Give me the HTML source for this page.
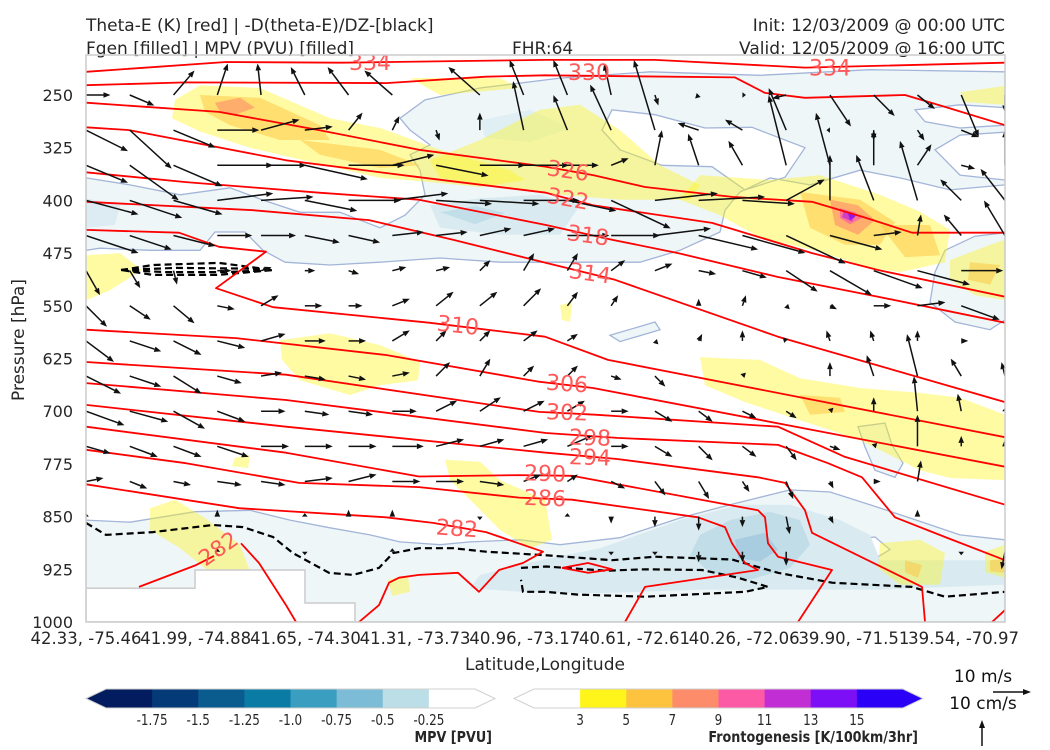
<!DOCTYPE html>
<html><head><meta charset="utf-8">
<style>
html,body{margin:0;padding:0;background:#fff;}
svg{display:block;font-family:"DejaVu Sans","Liberation Sans",sans-serif;}
</style></head>
<body>
<svg id="chart" width="1050" height="750" viewBox="0 0 1050 750" xmlns="http://www.w3.org/2000/svg">
  <defs><clipPath id="plotclip"><rect x="86" y="55" width="919" height="567"/></clipPath></defs>
  <rect width="1050" height="750" fill="#fff"/>
  <g font-size="17" fill="#262626">
    <text x="86" y="31">Theta-E (K) [red] | -D(theta-E)/DZ-[black]</text>
    <text x="86" y="54">Fgen [filled] | MPV (PVU) [filled]</text>
    <text x="512" y="54">FHR:64</text>
    <text x="1005" y="31" text-anchor="end">Init: 12/03/2009 @ 00:00 UTC</text>
    <text x="1005" y="54" text-anchor="end">Valid: 12/05/2009 @ 16:00 UTC</text>
  </g>
  <g id="plot" clip-path="url(#plotclip)"></g>
  <rect x="86" y="55" width="919" height="567" fill="none" stroke="#cccccc" stroke-width="1.5"/>
  <g id="axes"></g>
  <text x="24" y="340" font-size="17" fill="#262626" text-anchor="middle" transform="rotate(-90 24 340)">Pressure [hPa]</text>
  <text x="545" y="670" font-size="17" fill="#262626" text-anchor="middle">Latitude,Longitude</text>
  <g id="cbars"></g>
  <g fill="#111">
    <text x="983" y="682" font-size="17" text-anchor="middle">10 m/s</text>
    <line x1="993" y1="692" x2="1026" y2="692" stroke="#111" stroke-width="1.5"/>
    <polygon points="1031,692 1023,689 1023,695"/>
    <text x="983" y="709" font-size="17" text-anchor="middle">10 cm/s</text>
    <line x1="982" y1="746" x2="982" y2="726" stroke="#111" stroke-width="1.5"/>
    <polygon points="982,720 979,728 985,728"/>
  </g>
</svg>
<script>
// ---------- scales ----------
const X0 = 86, X1 = 1005, KM_MAX = 919;
const YB = 622, P_BOT = 1000, PX_PER_HPA = 527/750;
function xS(km){ return X0 + km*(X1-X0)/KM_MAX; }
function yS(p){ return YB - (P_BOT - p)*PX_PER_HPA; }

// ---------- axis data ----------
const yTicks = [250,325,400,475,550,625,700,775,850,925,1000];
const xTickKm = [0,109.7,219.4,329.1,438.8,548.5,658.2,767.9,877.6];
const xTickLabels = ["42.33, -75.46","41.99, -74.88","41.65, -74.30","41.31, -73.73","40.96, -73.17","40.61, -72.61","40.26, -72.06","39.90, -71.51","39.54, -70.97"];

// ---------- MPV fills [km, hPa] ----------
const mpvTop = [[0,368],[44,378],[94,392],[144,382],[176,399],[214,417],[254,417],[294,439],[319,421],[339,392],[334,357],[324,335],[344,321],[324,300],[314,283],[339,257],[394,240],[474,226],[564,217],[674,222],[784,214],[919,217],[919,303],[874,307],[849,328],[874,364],[919,371],[919,378],[864,385],[814,368],[774,357],[724,378],[684,368],[654,388],[639,414],[634,445],[594,471],[554,488],[474,488],[414,488],[354,482],[294,488],[244,492],[199,488],[177,471],[159,445],[129,445],[114,471],[64,471],[14,468],[0,471]];
const mpvHoleA = [[516,300],[526,271],[569,278],[619,297],[666,296],[719,325],[699,367],[659,385],[626,352],[576,350],[534,328]];
const mpvHoleB = [[829,271],[874,264],[919,268],[919,293],[874,297],[839,288]];
const mpvMid1 = [[344,407],[394,397],[454,392],[494,407],[474,449],[414,449],[354,439]];
const mpvMid2 = [[394,286],[444,271],[484,297],[444,317],[399,311]];
const mpvMid3 = [[0,397],[34,407],[29,435],[0,439]];
const mpvDeep1 = [[354,417],[389,408],[419,418],[389,434]];
const mpvRight = [[859,471],[889,451],[919,446],[919,570],[904,584],[869,573],[844,545],[849,502]];
const mpvSmall = [[772,722],[799,717],[806,748],[817,774],[809,794],[789,784],[779,751]];
const mpvTiny = [[524,592],[569,573],[574,584],[534,601]];
const mpvLow = [[0,855],[44,858],[109,843],[164,841],[204,855],[244,866],[284,876],[314,886],[354,890],[384,886],[434,883],[474,890],[534,880],[594,852],[644,833],[704,812],[744,815],[784,833],[824,852],[874,876],[919,883],[919,1000],[0,1000]];
const mpvLow2 = [[394,933],[454,912],[514,895],[594,855],[654,833],[704,833],[754,855],[784,876],[794,912],[919,912],[919,947],[794,954],[714,954],[614,954],[514,959],[434,957],[384,952]];
const mpvLow3 = [[614,876],[644,855],[684,843],[714,855],[724,890],[704,923],[664,940],[624,929],[604,905]];
const mpvLow4 = [[649,883],[679,873],[692,897],[674,914],[652,909]];
const mpvLowHole = [[757,883],[789,879],[804,897],[784,914],[762,907]];
const terrain = [[0,952],[109,952],[109,926],[219,926],[219,973],[269,973],[269,1000],[0,1000]];

// ---------- Frontogenesis fills [km, hPa] ----------
const fgen1 = [
 [[89,257],[114,236],[174,240],[244,283],[294,297],[354,328],[424,357],[439,371],[394,381],[344,374],[294,368],[224,345],[164,325],[114,302],[86,283]],
 [[324,226],[414,226],[434,240],[354,250]],
 [[344,343],[394,314],[454,271],[494,264],[534,300],[574,350],[614,378],[604,399],[534,399],[474,392],[394,378],[354,368]],
 [[614,364],[684,371],[734,364],[794,392],[834,416],[864,442],[859,488],[814,502],[784,496],[734,473],[674,453],[634,421],[594,399]],
 [[864,485],[904,463],[919,456],[919,542],[889,535],[864,513]],
 [[874,246],[919,237],[919,264],[879,260]],
 [[194,599],[244,589],[294,606],[334,630],[332,656],[294,663],[264,677],[214,656],[196,627]],
 [[0,478],[34,475],[56,499],[24,528],[0,542]],
 [[614,623],[674,627],[714,653],[774,667],[834,674],[874,681],[919,705],[919,798],[864,795],[834,784],[774,741],[714,713],[659,687],[619,663]],
 [[359,769],[394,772],[414,798],[459,826],[466,883],[444,895],[414,869],[384,826],[364,798]],
 [[64,838],[89,826],[119,852],[154,890],[169,947],[144,954],[124,929],[94,895],[64,869]],
 [[794,888],[834,883],[859,902],[854,947],[814,947],[792,923]],
 [[899,900],[919,890],[919,937],[899,929]],
 [[302,940],[322,934],[324,957],[306,963]],
 [[474,549],[486,545],[484,573],[476,570]],
 [[149,766],[164,762],[162,781],[146,778]]
];
const fgen2 = [
 [[114,250],[174,254],[234,293],[244,314],[194,314],[144,293],[119,274]],
 [[214,314],[294,328],[334,350],[294,354],[234,335]],
 [[714,388],[774,399],[809,431],[794,463],[759,463],[724,439]],
 [[794,435],[844,435],[854,478],[819,481]],
 [[884,488],[914,492],[904,520],[882,513]],
 [[714,677],[754,681],[759,701],[724,705]],
 [[139,926],[159,933],[159,952],[142,952]],
 [[819,912],[836,919],[832,937],[819,929]],
 [[904,912],[919,910],[919,930],[904,928]]
];
const fgen3 = [[[129,261],[154,254],[169,268],[149,278],[134,274]],[[744,399],[772,407],[789,428],[772,449],[749,435]],[[144,940],[156,944],[156,952],[146,952]]];
const fgen4 = [[[754,411],[769,417],[776,425],[764,434],[754,425]]];
const fgen5 = [[[758,414],[770,420],[766,430],[756,424]]];
const fgen6 = [[[762,418],[770,422],[764,428]]];

// ---------- Theta-E contours [km, hPa] ----------
const thetaLevels = [334,330,326,322,318,314,310,306,302,298,294,290,286,282];
const th334 = [[0,217],[140,203],[256,204],[459,200],[569,200],[719,211],[919,204]];
const th330 = [[0,236],[100,232],[300,233],[400,224],[459,222],[649,225],[679,247],[719,254],[819,250],[859,267],[919,293]];
const th326 = [[0,261],[133,274],[233,300],[333,328],[460,352],[507,364],[559,381],[646,395],[726,402],[776,423],[826,446],[919,446]];
const th322 = [[0,296],[43,300],[200,343],[333,367],[460,389],[507,407],[626,432],[726,475],[792,499],[919,537]];
const th318 = [[0,360],[100,374],[233,389],[333,399],[460,435],[526,456],[592,475],[692,509],[792,537],[919,574]];
const th314 = [[0,402],[167,414],[283,428],[367,456],[460,489],[529,513],[692,594],[919,687]];
const th310 = [[0,442],[93,446],[133,466],[180,473],[130,525],[187,552],[343,574],[459,594],[522,627],[919,737]];
const th306 = [[0,584],[150,596],[300,620],[453,658],[507,667],[919,779]];
const th302 = [[0,630],[200,648],[453,701],[509,705],[692,722],[759,765],[919,833]];
const th298 = [[0,660],[200,684],[460,731],[531,738],[692,748],[742,774],[776,794],[809,851],[859,879],[919,912]];
const th294 = [[0,691],[200,722],[460,759],[531,768],[672,794],[699,802],[719,841],[726,873],[836,950],[839,1000]];
const th290 = [[0,722],[200,759],[333,793],[433,791],[486,792],[672,841],[679,851],[682,888],[692,907],[746,926],[712,1000]];
const th286 = [[0,755],[100,774],[213,802],[333,808],[433,823],[486,826],[612,851],[639,865],[646,888],[659,916],[672,926],[559,950],[539,1000]];
const th282 = [[0,804],[153,838],[300,851],[347,859],[400,872],[457,900],[437,916],[413,926],[393,957],[372,930],[333,933],[313,937],[303,944],[293,976],[273,1000]];
const th282b = [[53,950],[110,919],[128,906]];
const th282c = [[155,888],[173,916],[200,976],[210,1000]];
const th282d = [[476,923],[502,916],[526,925],[502,930],[476,923]];
const th278e = [[906,1000],[919,983]];
const thetaLines = [th334,th330,th326,th322,th318,th314,th310,th306,th302,th298,th294,th290,th286,th282,th282b,th282c,th282d,th278e];
const labelVals = [334,330,334,326,322,318,314,310,306,302,298,294,290,286,282,282];
const labelKm   = [284,503,744,482,482,502,504,372,481,481,504,504,459,459,371,132];
const labelP    = [203,217,211,357,397,449,503,577,660,701,737,765,788,823,866,895];
const labelRot  = [0,0,0,8,10,8,8,6,4,2,2,2,2,2,4,-35];

// ---------- -D(theta-E)/DZ dashed contours ----------
const dthUpper = [[35,499],[67,492],[133,489],[187,499],[133,506],[67,506],[35,499]];
const dthUpper2 = [[35,499],[90,496],[160,497],[187,499],[140,502],[80,502],[35,499]];
const dthLow = [[0,859],[20,876],[67,872],[127,862],[157,865],[187,879],[207,902],[243,930],[267,933],[293,923],[307,902],[333,895],[367,895],[400,900],[459,905],[526,912],[569,907],[646,911],[692,930],[746,944],[826,950],[859,964],[919,957]];
const dthLoop = [[435,923],[460,921],[520,927],[559,925],[616,926],[652,937],[682,950],[659,957],[559,964],[492,961],[459,957],[437,957],[435,940]];

// ---------- wind vectors (u m/s, w cm/s) ----------
const windP = [250,300,350,400,450,500,550,600,650,700,750,800,850,900];
const U250=[7,7,6,3,-1,-4,-6,-8,0,-9,-4,-4,-2,1,-1,1,-4,6,6,5,5,0];
const W250=[0,-3,7,9,9,8,8,7,0,8,10,10,9,-3,-1,0,-1,-9,-6,-4,-12,-5];
const U300=[12,12,12,12,11,8,4,2,1,0,-3,-4,-6,-6,-6,-5,-5,-1,0,2,5,3];
const W300=[-6,-11,-5,0,3,1,5,4,-3,5,14,10,13,20,2,3,12,0,-3,-3,-2,-9];
const U350=[12,14,14,16,13,18,16,12,15,13,13,9,5,2,-3,-4,-5,-4,0,4,4,0];
const W350=[-5,-10,-6,0,0,-4,0,3,-3,0,0,0,2,10,9,7,20,15,10,6,-1,10];
const U400=[15,15,14,16,15,15,15,16,16,17,16,14,17,18,19,15,11,0,-5,-5,-6,-7];
const W400=[-4,-5,-4,2,1,-3,0,2,-1,-1,0,-3,-8,2,1,-1,6,13,13,17,6,9];
const U450=[15,12,12,10,10,10,9,9,9,9,9,12,14,16,17,18,17,15,8,1,-5,-6];
const W450=[-5,-4,-3,0,0,-2,-2,1,1,2,2,0,0,2,-4,-5,-8,-4,1,6,6,10];
const U500=[4,3,1,4,3,3,3,4,4,3,3,3,4,5,5,7,9,12,14,15,12,12];
const W500=[-7,-5,-4,0,1,0,-1,1,1,3,5,5,3,2,-1,-2,-6,-7,-5,-4,0,0];
const U550=[6,6,6,5,5,5,4,5,5,5,5,3,2,0,0,1,1,2,5,8,11,10];
const W550=[-6,-4,-5,-1,3,0,0,2,4,4,5,4,3,0,2,3,-1,-1,0,1,-4,-3];
const U600=[8,9,8,8,7,6,5,5,3,3,4,3,0,1,1,0,-1,-1,-1,0,2,0];
const W600=[-6,-3,-4,-2,2,0,0,3,3,3,3,2,0,-1,2,3,1,3,3,3,0,0];
const U650=[10,9,8,7,6,6,5,5,4,3,3,3,3,3,0,1,0,0,-2,-3,-3,-1];
const W650=[-5,-3,-5,-2,1,-1,-1,1,4,5,3,3,-1,-3,0,1,0,4,6,12,5,4];
const U700=[11,11,9,8,7,7,7,7,6,6,6,5,5,5,4,4,3,1,0,-1,-1,0];
const W700=[-4,-3,-5,-3,0,-1,-1,0,3,4,3,3,0,-3,-3,-2,-2,1,4,10,5,1];
const U750=[7,8,8,9,8,8,8,9,8,7,7,7,5,5,4,4,3,3,1,0,0,0];
const W750=[-2,-3,-3,-3,0,0,0,0,2,2,2,3,0,-3,-4,-3,-4,-1,1,9,3,2];
const U800=[5,5,5,7,7,8,8,8,8,7,5,3,4,3,3,2,2,1,2,1,0,0];
const W800=[1,-2,-1,-1,-1,1,2,0,0,-1,2,2,-2,-4,-5,-3,-5,-2,0,6,0,0];
const U850=[0,0,0,0,0,0,0,0,0,0,0,0,0,0,0,0,1,1,0,0,0,0];
const W850=[1,0,0,2,0,1,2,2,0,-1,0,1,-2,-3,-4,-3,-5,-2,0,2,0,0];
const U900=[0,0,0,0,0,0,0,0,0,0,0,0,0,0,0,0,0,0,0,0,0,-1];
const W900=[0,0,0,1,0,-1,0,1,0,0,0,0,-1,-1,-3,-3,-4,0,0,0,-1,-5];
const windU=[U250,U300,U350,U400,U450,U500,U550,U600,U650,U700,U750,U800,U850,U900];
const windW=[W250,W300,W350,W400,W450,W500,W550,W600,W650,W700,W750,W800,W850,W900];

// ---------- colorbar data ----------
const mpvColors = ["#021c5f","#053a78","#0a5b8e","#0a7ba5","#3a9ec0","#7dbcd6","#bcdee7","#ffffff"];
const mpvTickLabels = ["-1.75","-1.5","-1.25","-1.0","-0.75","-0.5","-0.25"];
const fgColors = ["#ffffff","#fff51a","#fdc33e","#fd8c6a","#fd5aa6","#c12ed4","#7c0ff6","#2a00f6"];
const fgTickLabels = ["3","5","7","9","11","13","15"];

// ---------- drawing ----------
const NS="http://www.w3.org/2000/svg";
const plot=document.getElementById('plot');
const axes=document.getElementById('axes');
const cbars=document.getElementById('cbars');
function mk(tag,attrs,parent){const e=document.createElementNS(NS,tag);for(const k in attrs)e.setAttribute(k,attrs[k]);parent.appendChild(e);return e;}
function pathD(pts,close){return pts.map((q,i)=>(i?'L':'M')+xS(q[0]).toFixed(1)+' '+yS(q[1]).toFixed(1)).join(' ')+(close?' Z':'');}

let e;
e=mk('path',{d:pathD(mpvTop,true)+' '+pathD(mpvHoleA,true)+' '+pathD(mpvHoleB,true),fill:'#eef6f8','fill-rule':'evenodd',stroke:'#a3b5d8','stroke-width':1.3},plot);


[mpvRight,mpvSmall,mpvTiny].forEach(pg=>{
  e=mk('path',{d:pathD(pg,true),fill:'#eef6f8',stroke:'#a3b5d8','stroke-width':1.3},plot);
  
  
});
e=mk('path',{d:pathD(mpvLow,true)+' '+pathD(mpvLowHole,true),fill:'#eef6f8','fill-rule':'evenodd',stroke:'#a3b5d8','stroke-width':1.3},plot);


[[mpvMid1,'#d9ebf1'],[mpvMid2,'#e0eff4'],[mpvMid3,'#dcecf2'],[mpvDeep1,'#c2dfe9'],[mpvLow2,'#d9ebf1'],[mpvLow3,'#c0dde8'],[mpvLow4,'#a8cde0']].forEach(a=>{
  e=mk('path',{d:pathD(a[0],true),fill:a[1]},plot);
  
  
});

const fgLevels=[[fgen1,'#fff51a',0.4],[fgen2,'#fdc33e',0.5],[fgen3,'#fd8c6a',0.6],[fgen4,'#fd5aa6',0.7],[fgen5,'#c12ed4',0.75],[fgen6,'#7c0ff6',0.8]];
fgLevels.forEach(L=>{L[0].forEach(pg=>{
  e=mk('path',{d:pathD(pg,true),fill:L[1],'fill-opacity':L[2]},plot);
  
  
});});

e=mk('path',{d:pathD(terrain,true),fill:'#ffffff',stroke:'#cccccc','stroke-width':1.5},plot);



[dthUpper,dthUpper2,dthLow,dthLoop].forEach(pts=>{
  e=mk('path',{d:pathD(pts,false),fill:'none',stroke:'#000','stroke-width':2.2,'stroke-dasharray':'7,4'},plot);
  
  
});

thetaLines.forEach(pts=>{
  e=mk('path',{d:pathD(pts,false),fill:'none',stroke:'#ff0000','stroke-width':1.8,'stroke-linejoin':'round'},plot);
  
  
});

const U_PX=3.5, W_PX=3.5;
windP.forEach((p,r)=>{
  windU[r].forEach((u,c)=>{
    const w=windW[r][c];
    const x0=xS(c*KM_MAX/21), y0=yS(p);
    const dx=u*U_PX, dy=-w*W_PX;
    const len=Math.hypot(dx,dy);
    if(len<1) return;
    const ux=dx/len, uy=dy/len;
    const hl=Math.min(7,len), hw=2.8;
    const bx=x0+dx-ux*hl, by=y0+dy-uy*hl;
    const g=mk('g',{},plot);
    
    
    if(len>hl) mk('line',{x1:x0,y1:y0,x2:bx,y2:by,stroke:'#111','stroke-width':1.5},g);
    mk('polygon',{points:`${x0+dx},${y0+dy} ${bx-uy*hw},${by+ux*hw} ${bx+uy*hw},${by-ux*hw}`,fill:'#111'},g);
  });
});

labelVals.forEach((v,i)=>{
  const x=xS(labelKm[i]), y=yS(labelP[i]);
  const t=mk('text',{x:x,y:y+8,'text-anchor':'middle','font-size':22,fill:'#ff5a5a',transform:`rotate(${labelRot[i]} ${x} ${y})`},plot);
  
  
  t.textContent=v;
});

yTicks.forEach(p=>{
  const t=mk('text',{x:73,y:yS(p)+6,'text-anchor':'end','font-size':16,fill:'#262626'},axes);
  
  
  t.textContent=p;
});
xTickKm.forEach((k,i)=>{
  const t=mk('text',{x:xS(k),y:644,'text-anchor':'middle','font-size':16.5,fill:'#262626'},axes);
  
  
  t.textContent=xTickLabels[i];
});

function colorbar(x0,x1,colors,ticks,title,titleX,name){
  const g=mk('g',{},cbars);
  
  
  const n=colors.length, tri=20;
  const innerL=x0+tri, innerR=x1-tri;
  const w=(innerR-innerL)/n;
  const yT=689, yB2=708, yM=698.5;
  mk('polygon',{points:`${x0},${yM} ${innerL+0.5},${yT} ${innerL+0.5},${yB2}`,fill:colors[0]},g);
  for(let i=0;i<n;i++) mk('rect',{x:innerL+i*w,y:yT,width:w+0.5,height:yB2-yT,fill:colors[i]},g);
  mk('polygon',{points:`${innerR-0.5},${yT} ${x1},${yM} ${innerR-0.5},${yB2}`,fill:colors[n-1]},g);
  mk('path',{d:`M${x0} ${yM} L${innerL} ${yT} L${innerR} ${yT} L${x1} ${yM} L${innerR} ${yB2} L${innerL} ${yB2} Z`,fill:'none',stroke:'#d0d0d0','stroke-width':1},g);
  ticks.forEach((tl,i)=>{
    const tx=innerL+(i+1)*w;
    const t=mk('text',{x:tx,y:725,'text-anchor':'middle','font-size':15,fill:'#262626',transform:`translate(${tx*0.2} 0) scale(0.8 1)`},g);
    
    
    t.textContent=tl;
  });
  const t=mk('text',{x:titleX,y:742,'text-anchor':'end','font-size':15,'font-weight':'bold',fill:'#262626',transform:`translate(${titleX*0.15} 0) scale(0.85 1)`},g);
  
  
  t.textContent=title;
}
colorbar(86,495,mpvColors,mpvTickLabels,'MPV [PVU]',492,'mpv-colorbar');
colorbar(514,923,fgColors,fgTickLabels,'Frontogenesis [K/100km/3hr]',918,'frontogenesis-colorbar');
</script>
</body></html>
